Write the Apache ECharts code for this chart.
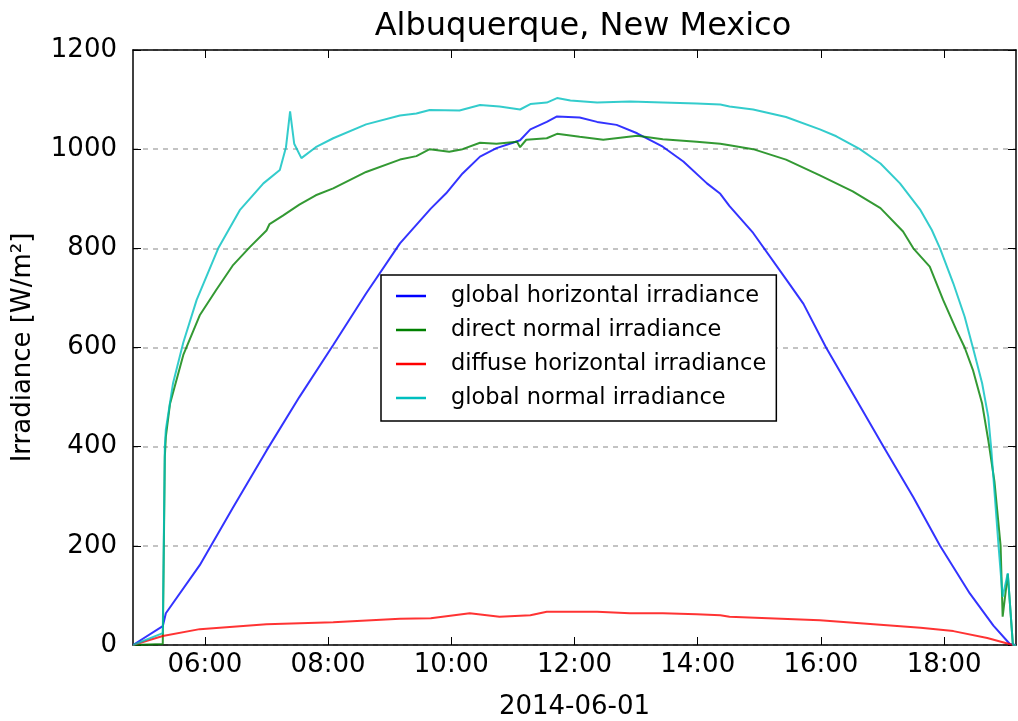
<!DOCTYPE html>
<html>
<head>
<meta charset="utf-8">
<script src="https://cdn.jsdelivr.net/npm/echarts@6/dist/echarts.min.js"></script>
<style>html,body{margin:0;padding:0;background:#fff}#c{width:1018px;height:721px}</style>
</head>
<body>
<div id="c"></div>
<script>
// ---- data ----
const titleText = "Albuquerque, New Mexico";
const xAxisName = "2014-06-01";
const yAxisName = "Irradiance [W/m²]";
const xRange = ["04:50", "19:10"];
const xTickHours = [6, 8, 10, 12, 14, 16, 18];
const yTicks = [0, 200, 400, 600, 800, 1000, 1200];
const seriesNames = ["global horizontal irradiance", "direct normal irradiance", "diffuse horizontal irradiance", "global normal irradiance"];

const ghiTimes = ["04:50","05:19","05:22","05:55","06:27","07:00","07:32","08:05","08:37","09:10","09:40","09:55","10:11","10:28","10:44","11:00","11:07","11:17","11:33","11:43","12:05","12:22","12:41","13:01","13:26","13:46","14:09","14:22","14:31","14:54","15:26","15:43","16:05","16:31","17:01","17:30","17:56","18:25","18:48","19:04","19:10"];
const ghiValues = [0,38,64,161,276,392,500,605,709,810,880,911,951,985,1002,1013,1018,1040,1055,1066,1064,1055,1049,1032,1005,975,931,910,885,831,738,688,600,507,400,298,200,104,39,2,0];

const dniTimes = ["04:50","05:19","05:21","05:22","05:26","05:39","05:55","06:11","06:27","06:44","07:00","07:03","07:16","07:32","07:48","08:05","08:37","09:10","09:26","09:39","09:58","10:11","10:28","10:44","11:04","11:07","11:13","11:33","11:43","12:05","12:28","13:01","13:26","13:59","14:22","14:31","14:54","15:26","15:59","16:31","16:58","17:20","17:30","17:46","17:59","18:12","18:20","18:28","18:37","18:43","18:49","18:55","18:57","19:02","19:07","19:10"];
const dniValues = [0,2,380,420,486,585,665,716,765,803,836,849,866,888,907,921,954,979,986,1000,995,1000,1013,1011,1015,1004,1019,1022,1031,1025,1019,1027,1020,1015,1011,1008,1000,979,947,915,881,834,800,763,696,635,600,555,487,413,330,200,57,143,0,0];

const dhiTimes = ["04:50","05:19","05:55","07:00","08:05","09:10","09:40","10:18","10:47","11:17","11:33","12:22","12:54","13:26","13:59","14:22","14:31","15:59","17:37","18:09","18:42","19:07","19:10"];
const dhiValues = [0,18,32,42,46,53,54,64,57,60,67,67,64,64,62,60,57,50,35,28,14,0,0];

const gniTimes = ["04:50","05:19","05:21","05:22","05:29","05:39","05:52","06:13","06:34","06:57","07:13","07:19","07:23","07:27","07:34","07:48","08:05","08:37","09:10","09:26","09:39","10:08","10:28","10:47","11:07","11:17","11:33","11:43","11:56","12:22","12:54","13:26","13:59","14:22","14:31","14:54","15:26","15:59","16:15","16:38","16:58","17:17","17:37","17:48","17:56","18:09","18:20","18:28","18:37","18:43","18:46","18:53","18:57","19:02","19:07","19:10"];
const gniValues = [0,24,400,435,528,610,696,800,877,931,958,1004,1076,1011,982,1004,1022,1050,1068,1072,1079,1078,1089,1086,1080,1091,1094,1103,1098,1094,1096,1094,1092,1090,1086,1080,1065,1040,1026,1000,971,931,877,837,800,729,662,600,528,460,393,200,97,145,0,0];

const seriesColors = ["#0000ff", "#008000", "#ff0000", "#00bfbf"];

// ---- build ----
function toHours(s) { const p = s.split(":"); return +p[0] + (+p[1]) / 60; }
function pairs(ts, vs) { return ts.map((t, i) => [toHours(t), vs[i]]); }
const allData = [pairs(ghiTimes, ghiValues), pairs(dniTimes, dniValues), pairs(dhiTimes, dhiValues), pairs(gniTimes, gniValues)];
const xMin = toHours(xRange[0]), xMax = toHours(xRange[1]);
const FONT = "DejaVu Sans";
const fmtHour = v => (v < 10 ? "0" : "") + Math.round(v) + ":00";

const chart = echarts.init(document.getElementById("c"), null, { renderer: "canvas" });
const baseX = {
  type: "value", min: xMin, max: xMax,
  axisLine: { show: true, onZero: false, lineStyle: { color: "#000", width: 1.5 } },
  axisTick: { show: true, inside: true, length: 8, customValues: xTickHours, lineStyle: { color: "#000", width: 1 } },
  splitLine: { show: false }
};
const baseY = {
  type: "value", min: yTicks[0], max: yTicks[yTicks.length - 1], interval: yTicks[1] - yTicks[0],
  axisLine: { show: true, onZero: false, lineStyle: { color: "#000", width: 1.5 } },
  axisTick: { show: true, inside: true, length: 8, lineStyle: { color: "#000", width: 1 } }
};
chart.setOption({
  animation: false,
  backgroundColor: "#fff",
  title: { text: titleText, left: 578, top: 6, textAlign: "center",
    textStyle: { fontFamily: FONT, fontSize: 32, fontWeight: "normal", color: "#000" } },
  grid: { left: 133, top: 50, width: 883, height: 595, containLabel: false, outerBoundsMode: "none" },
  legend: {
    orient: "vertical", left: 381, top: 275,
    data: seriesNames, icon: "rect",
    backgroundColor: "#fff", borderColor: "#000", borderWidth: 1.5, borderRadius: 0,
    padding: [8, 10, 10, 15], itemWidth: 30, itemHeight: 2.5, itemGap: 8,
    textStyle: { fontFamily: FONT, fontSize: 22.5, color: "#000", lineHeight: 26, padding: [0, 0, 0, 20] }
  },
  xAxis: [
    Object.assign({}, baseX, {
      position: "bottom",
      name: xAxisName, nameLocation: "middle", nameGap: 49,
      nameTextStyle: { fontFamily: FONT, fontSize: 26, color: "#000" },
      axisLabel: { show: true, customValues: xTickHours, formatter: fmtHour, margin: 7,
        fontFamily: FONT, fontSize: 26, color: "#000" }
    }),
    Object.assign({}, baseX, { position: "top", axisLabel: { show: false } })
  ],
  yAxis: [
    Object.assign({}, baseY, {
      position: "left",
      name: yAxisName, nameLocation: "middle", nameGap: 97,
      nameTextStyle: { fontFamily: FONT, fontSize: 26, color: "#000" },
      axisLabel: { show: true, margin: 16, fontFamily: FONT, fontSize: 26, color: "#000", formatter: v => String(v) },
      splitLine: { show: true, lineStyle: { color: "#b0b0b0", type: [5, 5], width: 1.5 } }
    }),
    Object.assign({}, baseY, { position: "right", axisLabel: { show: false }, splitLine: { show: false } })
  ],
  series: allData.map((d, i) => ({
    name: seriesNames[i], type: "line", data: d,
    xAxisIndex: 0, yAxisIndex: 0,
    symbol: "none", showSymbol: false, smooth: false,
    color: seriesColors[i],
    lineStyle: { color: seriesColors[i], width: 2, opacity: 0.8 },
    emphasis: { disabled: true }
  }))
});
</script>
</body>
</html>
